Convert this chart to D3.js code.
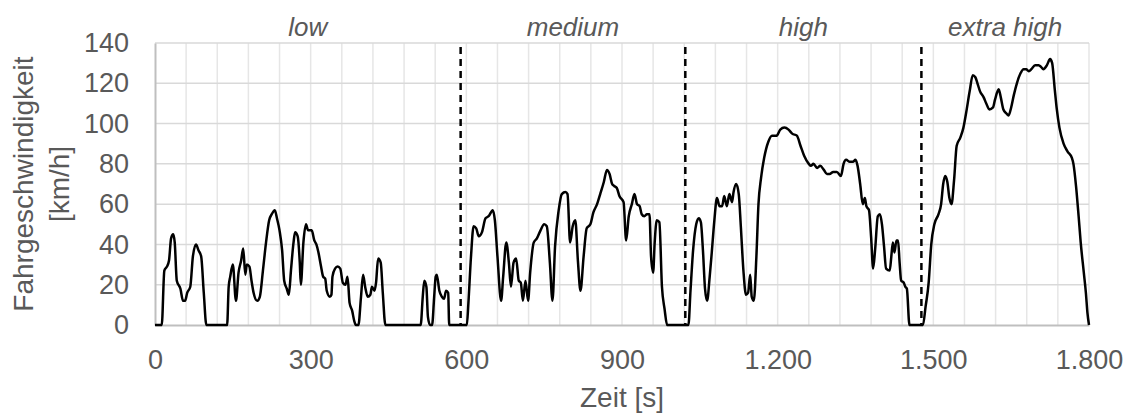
<!DOCTYPE html>
<html>
<head>
<meta charset="utf-8">
<script src="https://cdn.jsdelivr.net/npm/d3@7"></script>
<style>
  body { margin: 0; background: #fff; }
  #chart { width: 1131px; height: 414px; }
  text { font-family: "Liberation Sans", Arial, sans-serif; fill: #595959; }
</style>
</head>
<body>
<div id="chart"></div>
<script>
const zeit = [
    0, 13, 18, 23, 27, 31, 35, 38, 42, 49, 54, 58, 62, 68, 73, 79, 84, 89, 94, 99,
    139, 142, 145, 150, 156, 161, 166, 170, 174, 177, 182, 186, 190, 197, 202, 208, 214, 220, 225, 231,
    235, 240, 245, 249, 254, 258, 262, 267, 270, 275, 279, 281, 286, 291, 295, 302, 307, 311, 315, 320,
    324, 328, 331, 337, 340, 342, 347, 352, 357, 362, 367, 371, 375, 380, 384, 387, 392, 397, 401, 405,
    410, 415, 418, 423, 426, 430, 435, 439, 444, 512, 516, 519, 523, 526, 530, 534, 538, 541, 543, 548,
    553, 557, 561, 565, 567,
    601, 604, 609, 614, 619, 624, 630, 637, 643, 651, 655, 660, 667, 671, 677, 682, 686, 691, 696, 701,
    705, 709, 714, 719, 723, 730, 736, 743, 750, 755, 761, 766, 771, 778, 784, 791, 795, 800, 805, 810,
    815, 820, 826, 832, 839, 845, 852, 858, 865, 871, 876, 881, 885, 890, 895, 903, 908, 913, 919, 924,
    929, 934, 938, 943, 948, 953, 956, 960, 963, 967, 972, 977, 982, 987,
    1028, 1032, 1037, 1043, 1048, 1052, 1056, 1060, 1064, 1069, 1073, 1078, 1083, 1088, 1093, 1097, 1102, 1107, 1112, 1115,
    1120, 1125, 1129, 1134, 1139, 1143, 1147, 1150, 1154, 1159, 1163, 1168, 1174, 1182, 1189, 1198, 1205, 1213, 1221, 1228,
    1237, 1244, 1251, 1260, 1264, 1269, 1276, 1282, 1289, 1295, 1300, 1307, 1314, 1322, 1327, 1332, 1339, 1345, 1350, 1354,
    1359, 1364, 1368, 1371, 1376, 1380, 1384, 1388, 1393, 1397, 1401, 1405, 1409, 1416, 1419, 1422, 1425, 1429, 1432, 1435,
    1438, 1443, 1446, 1449, 1454,
    1480, 1485, 1491, 1496, 1502, 1510, 1515, 1519, 1523, 1527, 1531, 1535, 1540, 1545, 1552, 1558, 1563, 1570, 1576, 1581,
    1585, 1590, 1597, 1602, 1608, 1615, 1619, 1626, 1630, 1635, 1641, 1645, 1650, 1655, 1661, 1668, 1674, 1679, 1684, 1689,
    1696, 1703, 1708, 1712, 1719, 1725, 1729, 1734, 1738, 1743, 1751, 1759, 1767, 1770, 1775, 1780, 1784, 1790, 1794, 1797,
    1800
];
const geschwindigkeit = [
    0, 0, 27, 29, 32, 43, 45, 41, 22, 18, 12, 12, 16, 19, 34, 40, 37, 34, 16, 0,
    0, 19, 24, 30, 12, 26, 32, 38, 25, 30, 29, 22, 16, 12, 14, 27, 41, 52, 55, 57,
    53, 47, 37, 22, 18, 15, 27, 41, 46, 44, 31, 20, 41, 50, 47, 47, 42, 40, 36, 29,
    24, 23, 17, 14, 15, 24, 28, 29, 28, 21, 20, 24, 11, 7, 2, 0, 0, 14, 25, 19,
    14, 15, 19, 17, 21, 33, 31, 16, 0, 0, 14, 22, 19, 4, 0, 0, 14, 24, 25, 17,
    14, 13, 17, 16, 0,
    0, 11, 34, 49, 48, 44, 46, 53, 54, 57, 52, 34, 12, 24, 41, 31, 19, 31, 33, 22,
    21, 12, 22, 12, 26, 41, 43, 47, 50, 49, 31, 12, 39, 57, 65, 66, 65, 41, 49, 52,
    32, 17, 34, 48, 50, 56, 60, 65, 71, 77, 75, 70, 69, 68, 64, 61, 42, 54, 60, 65,
    60, 59, 55, 54, 55, 55, 34, 26, 41, 52, 51, 19, 8, 0,
    0, 17, 37, 50, 53, 51, 37, 18, 12, 24, 36, 52, 63, 59, 59, 64, 59, 65, 61, 66,
    70, 65, 49, 27, 15, 16, 25, 14, 12, 34, 60, 73, 83, 91, 94, 94, 97, 98, 97, 95,
    94, 89, 84, 80, 79, 80, 78, 79, 77, 75, 75, 76, 76, 74, 80, 82, 81, 81, 82, 79,
    70, 60, 63, 59, 57, 44, 28, 38, 54, 55, 50, 39, 28, 27, 34, 41, 36, 42, 42, 31,
    22, 21, 19, 18, 0,
    0, 9, 21, 40, 50, 55, 60, 70, 74, 71, 63, 60, 72, 89, 93, 98, 105, 116, 124, 123,
    120, 116, 113, 110, 107, 108, 112, 117, 113, 107, 105, 104, 108, 114, 120, 125, 127, 127, 126, 127,
    129, 129, 128, 127, 129, 132, 130, 117, 107, 98, 90, 86, 83, 80, 69, 54, 41, 26, 16, 6,
    0
];
const phasenGrenzen = [589, 1022, 1477];
const phasenStart = [0, 589, 1022, 1477];
const phasenEnde = [589, 1022, 1477, 1800];
const phasenNamen = ["low", "medium", "high", "extra high"];
const xTicks = [0, 300, 600, 900, 1200, 1500, 1800];
const yTicks = [0, 20, 40, 60, 80, 100, 120, 140];

function renderZyklus(selector) {
    d3.select(selector).html("");

    const margin = {top: 43, right: 42, bottom: 89, left: 155};
    const container = d3.select(selector);
    const W = 1131, H = 414;
    const width = W - margin.left - margin.right;
    const height = H - margin.top - margin.bottom;

    const svg = container.append("svg")
        .attr("width", W)
        .attr("height", H)
        .append("g")
        .attr("transform", `translate(${margin.left}, ${margin.top})`);

    const data = zeit.map((t, i) => ({t: t, v: geschwindigkeit[i]}));

    const x = d3.scaleLinear().domain([0, 1800]).range([0, width]);
    const y = d3.scaleLinear().domain([0, 140]).range([height, 0]);

    const de = d3.formatLocale({decimal: ",", thousands: ".", grouping: [3], currency: ["", " €"]});

    // Gitternetz
    svg.append("g")
        .selectAll("line")
        .data(d3.range(60, 1801, 60))
        .enter()
        .append("line")
        .attr("x1", d => x(d)).attr("x2", d => x(d))
        .attr("y1", 0).attr("y2", height)
        .attr("stroke", "#e6e6e6")
        .attr("stroke-width", 1.5);

    svg.append("g")
        .selectAll("line")
        .data(yTicks.slice(1))
        .enter()
        .append("line")
        .attr("x1", 0).attr("x2", width)
        .attr("y1", d => y(d)).attr("y2", d => y(d))
        .attr("stroke", "#d9d9d9")
        .attr("stroke-width", 1.5);

    const xAxis = svg.append("g")
        .attr("class", "axis axis-x")
        .attr("transform", `translate(0, ${height})`)
        .call(d3.axisBottom(x).tickValues(xTicks).tickSize(0).tickPadding(25).tickFormat(de.format(",")));
    xAxis.select(".domain").attr("stroke", "#bfbfbf").attr("stroke-width", 2);
    xAxis.selectAll("text").attr("font-size", 27).attr("fill", "#595959");

    const yAxis = svg.append("g")
        .attr("class", "axis axis-y")
        .call(d3.axisLeft(y).tickValues(yTicks).tickSize(0).tickPadding(26));
    yAxis.select(".domain").attr("stroke", "#bfbfbf").attr("stroke-width", 2);
    yAxis.selectAll("text").attr("font-size", 27).attr("fill", "#595959");

    // Phasengrenzen
    svg.selectAll(".grenze")
        .data(phasenGrenzen)
        .enter()
        .append("line")
        .attr("class", "grenze")
        .attr("x1", d => x(d)).attr("x2", d => x(d))
        .attr("y1", y(138)).attr("y2", height)
        .attr("stroke", "#000")
        .attr("stroke-width", 2.5)
        .attr("stroke-dasharray", "7,5");

    const line = d3.line()
        .x(d => x(d.t))
        .y(d => y(d.v))
        .curve(d3.curveMonotoneX);

    svg.append("path")
        .datum(data)
        .attr("d", line)
        .attr("fill", "none")
        .attr("stroke", "#000")
        .attr("stroke-width", 2.5)
        .attr("stroke-linejoin", "round");

    svg.selectAll(".phase")
        .data(phasenNamen)
        .enter()
        .append("text")
        .attr("class", "phase")
        .attr("x", (d, i) => x((phasenStart[i] + phasenEnde[i]) / 2))
        .attr("y", -7)
        .attr("text-anchor", "middle")
        .attr("font-size", 26)
        .attr("font-style", "italic")
        .text(d => d);

    svg.append("text")
        .attr("x", width / 2)
        .attr("y", height + 82)
        .attr("text-anchor", "middle")
        .attr("font-size", 28)
        .text("Zeit [s]");

    const yTitle = svg.append("text")
        .attr("transform", `translate(${-margin.left + 33}, ${height / 2}) rotate(-90)`)
        .attr("text-anchor", "middle")
        .attr("font-size", 28);
    yTitle.append("tspan").attr("x", 0).attr("dy", 0).text("Fahrgeschwindigkeit");
    yTitle.append("tspan").attr("x", 0).attr("dy", 36).text("[km/h]");
}

renderZyklus("#chart");
</script>
</body>
</html>
